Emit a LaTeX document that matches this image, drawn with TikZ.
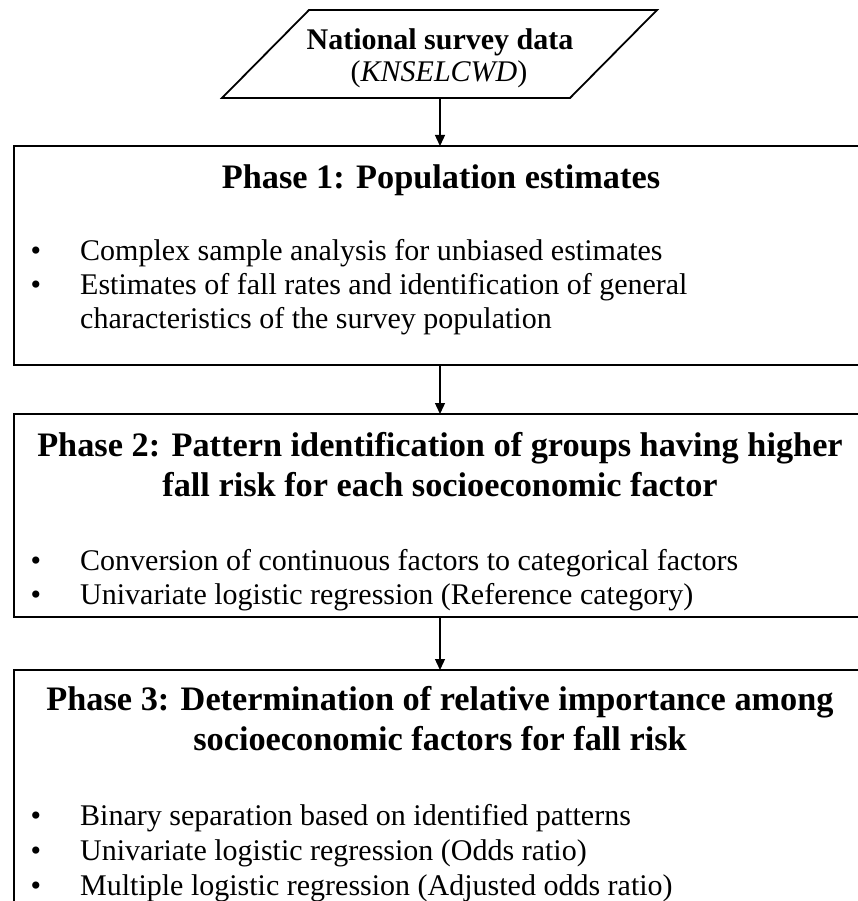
\documentclass[tikz,border=0pt]{standalone}
\usepackage{fontspec}
\setmainfont{Liberation Serif}
\usetikzlibrary{arrows.meta}
\tikzset{
  phasebox/.style={draw, line width=2pt, minimum width=852pt, inner sep=0pt, outer sep=0pt},
  title/.style={anchor=base, inner sep=0pt, font=\fontsize{34.3}{40}\selectfont\bfseries},
  body/.style={anchor=base west, inner sep=0pt, font=\fontsize{30}{34}\selectfont},
  bul/.style={anchor=base, inner sep=0pt, font=\fontsize{30}{34}\selectfont},
  datatext/.style={anchor=base, inner sep=0pt, font=\fontsize{30}{34}\selectfont},
  arr/.style={line width=1.3pt, -{Triangle[width=10pt,length=11pt]}}
}
\begin{document}
\begin{tikzpicture}[x=1pt,y=-1pt]
\useasboundingbox (0,0) rectangle (858,901);
\clip (0,0) rectangle (858,901);
\fill[white] (0,0) rectangle (858,901);

% input parallelogram
\draw[line width=1.8pt, line join=miter] (309,10) -- (657,10) -- (570,98) -- (222,98) -- cycle;
\node[datatext] (data1) at (440,50) {\bfseries National survey data};
\node[datatext] (data2) at (439,82) {(\textit{KNSELCWD})};
\coordinate (dataS) at (440,98);

% Phase boxes
\node[phasebox, minimum height=219pt] (p1) at (440,255.5) {};
\node[phasebox, minimum height=203pt] (p2) at (440,515.5) {};
\node[phasebox, minimum height=280pt] (p3) at (440,810) {};

% Phase 1
\node[title] (t1) at (441,189) {Phase 1: Population estimates};
\node[bul] (b11) at (36,260) {\textbullet};
\node[body] (l11) at (80,260) {Complex sample analysis for unbiased estimates};
\node[bul] (b12) at (36,294) {\textbullet};
\node[body] (l12) at (80,294) {Estimates of fall rates and identification of general};
\node[body] (l13) at (80,328) {characteristics of the survey population};

% Phase 2
\node[title] (t21) at (440,456) {Phase 2: Pattern identification of groups having higher};
\node[title] (t22) at (440,496) {fall risk for each socioeconomic factor};
\node[bul] (b21) at (36,570) {\textbullet};
\node[body] (l21) at (80,570) {Conversion of continuous factors to categorical factors};
\node[bul] (b22) at (36,604) {\textbullet};
\node[body] (l22) at (80,604) {Univariate logistic regression (Reference category)};

% Phase 3
\node[title] (t31) at (440,710) {Phase 3: Determination of relative importance among};
\node[title] (t32) at (440,750) {socioeconomic factors for fall risk};
\node[bul] (b31) at (36,825) {\textbullet};
\node[body] (l31) at (80,825) {Binary separation based on identified patterns};
\node[bul] (b32) at (36,860) {\textbullet};
\node[body] (l32) at (80,860) {Univariate logistic regression (Odds ratio)};
\node[bul] (b33) at (36,895) {\textbullet};
\node[body] (l33) at (80,895) {Multiple logistic regression (Adjusted odds ratio)};

% connectors
\draw[arr] (dataS) -- (p1.north);
\draw[arr] (p1.south) -- (p2.north);
\draw[arr] (p2.south) -- (p3.north);
\end{tikzpicture}
\end{document}
